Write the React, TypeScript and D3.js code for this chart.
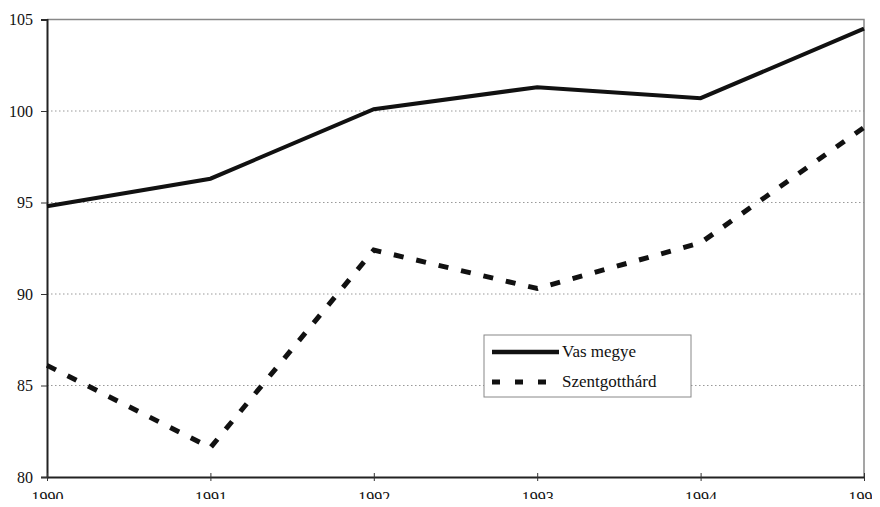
import { useEffect, useRef } from "react";
import * as d3 from "d3";

const years = [1990, 1991, 1992, 1993, 1994, 1995];
const vasMegye = [94.8, 96.3, 100.1, 101.3, 100.7, 104.5];
const szentgotthard = [86.1, 81.6, 92.4, 90.3, 92.8, 99.1];
const yTicks = [80, 85, 90, 95, 100, 105];

const W = 880;
const H = 507;

export default function App() {
  const ref = useRef<SVGSVGElement | null>(null);

  useEffect(() => {
    const svg = d3.select(ref.current!);
    svg.selectAll("*").remove();

    const left = 47;
    const right = 864;
    const top = 19.5;
    const bottom = 477;
    const font = "Liberation Serif, Times New Roman, DejaVu Serif, serif";

    const x = d3.scalePoint<number>().domain(years).range([left, right]);
    const y = d3.scaleLinear().domain([80, 105]).range([bottom, top]);

    svg.append("rect").attr("width", W).attr("height", H).attr("fill", "#fff");

    // gridlines
    svg
      .selectAll("line.grid")
      .data(yTicks.filter((t) => t !== 80 && t !== 105))
      .join("line")
      .attr("x1", left)
      .attr("x2", right)
      .attr("y1", (d) => y(d))
      .attr("y2", (d) => y(d))
      .attr("stroke", "#999")
      .attr("stroke-width", 1)
      .attr("stroke-dasharray", "1.5,2.5");

    // frame top and right
    svg
      .append("path")
      .attr("d", `M${left},${y(105)}H${right}V${bottom}`)
      .attr("fill", "none")
      .attr("stroke", "#888")
      .attr("stroke-width", 1.5);

    // y axis
    const yAxis = svg
      .append("g")
      .attr("transform", `translate(${left},0)`)
      .call(d3.axisLeft(y).tickValues(yTicks).tickSize(6).tickPadding(8));
    yAxis.attr("font-family", font).attr("font-size", 16);
    yAxis.select(".domain").attr("stroke", "#222").attr("stroke-width", 2);
    yAxis.selectAll("line").attr("stroke", "#333").attr("stroke-width", 1);
    yAxis.selectAll("text").attr("fill", "#111");

    // x axis
    const xAxis = svg
      .append("g")
      .attr("transform", `translate(0,${bottom})`)
      .call(
        d3
          .axisBottom(x)
          .tickSizeInner(4)
          .tickSizeOuter(0)
          .tickPadding(11)
          .tickFormat((d) => String(d))
      );
    xAxis.attr("font-family", font).attr("font-size", 16);
    xAxis.select(".domain").attr("stroke", "#222").attr("stroke-width", 2);
    xAxis
      .selectAll(".tick line")
      .attr("y1", -4)
      .attr("stroke", "#333")
      .attr("stroke-width", 1);
    xAxis.selectAll("text").attr("fill", "#111");

    const line = d3
      .line<number>()
      .x((_, i) => x(years[i])!)
      .y((d) => y(d));

    svg
      .append("path")
      .datum(vasMegye)
      .attr("d", line)
      .attr("fill", "none")
      .attr("stroke", "#111")
      .attr("stroke-width", 4);

    svg
      .append("path")
      .datum(szentgotthard)
      .attr("d", line)
      .attr("fill", "none")
      .attr("stroke", "#111")
      .attr("stroke-width", 5)
      .attr("stroke-dasharray", "10,13");

    // legend
    const lg = svg.append("g").attr("transform", "translate(484,335)");
    lg.append("rect")
      .attr("width", 207)
      .attr("height", 62)
      .attr("fill", "#fff")
      .attr("stroke", "#888")
      .attr("stroke-width", 1);
    const items = [
      { name: "Vas megye", dash: null, w: 4.5 },
      { name: "Szentgotthárd", dash: "8,15", w: 5 },
    ];
    items.forEach((it, i) => {
      const cy = 17 + i * 30;
      const l = lg
        .append("line")
        .attr("x1", 8)
        .attr("x2", 75)
        .attr("y1", cy)
        .attr("y2", cy)
        .attr("stroke", "#111")
        .attr("stroke-width", it.w);
      if (it.dash) l.attr("stroke-dasharray", it.dash);
      lg.append("text")
        .attr("x", 78)
        .attr("y", cy + 5)
        .attr("font-family", font)
        .attr("font-size", 17)
        .attr("fill", "#111")
        .text(it.name);
    });
  }, []);

  return (
    <div style={{ margin: -8 }}>
      <svg ref={ref} width={W} height={H} style={{ display: "block" }} />
    </div>
  );
}
